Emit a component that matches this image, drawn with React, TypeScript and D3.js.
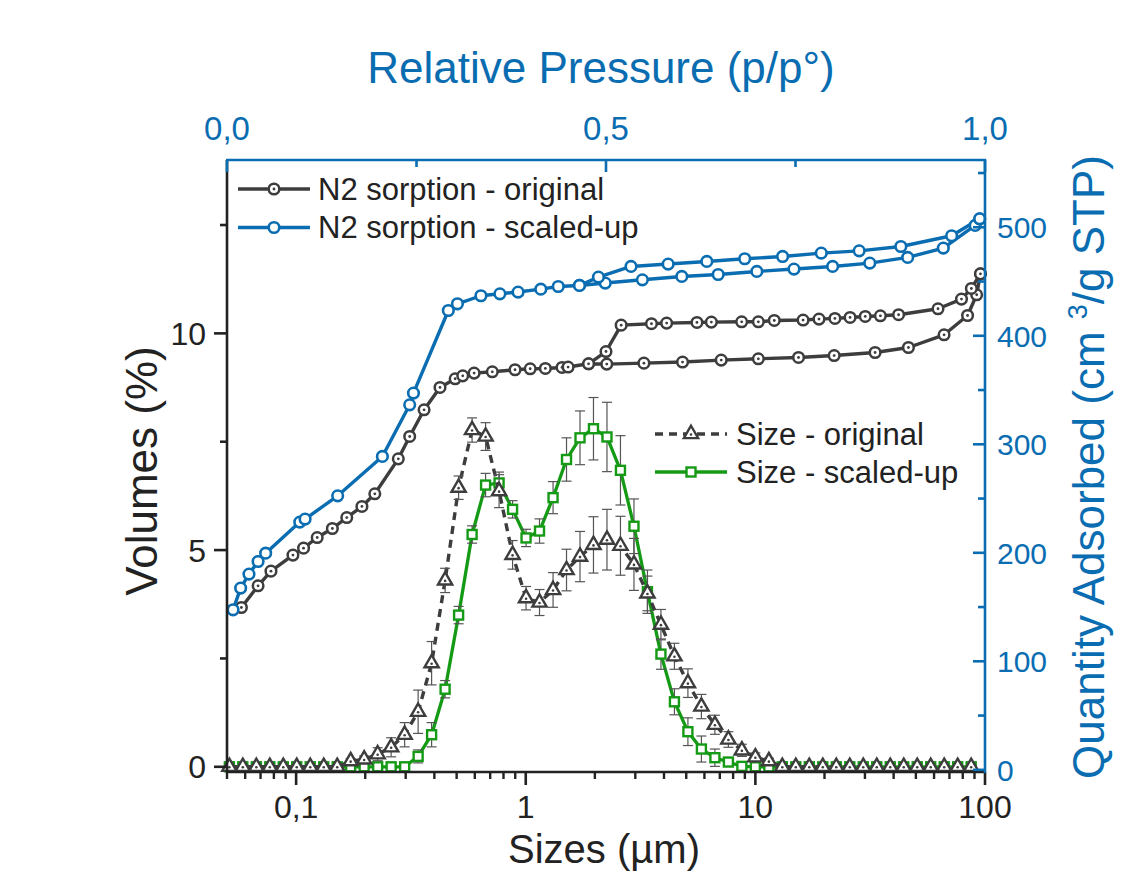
import React from "react";
import * as d3 from "d3";

// ---------- data ----------
const sizeBins = [
  0.0512, 0.0586, 0.0671, 0.0768, 0.0879, 0.1006, 0.1152, 0.1319, 0.151, 0.1728,
  0.1978, 0.2265, 0.2593, 0.2969, 0.3399, 0.3891, 0.4455, 0.51, 0.5839, 0.6685,
  0.7653, 0.8762, 1.003, 1.148, 1.315, 1.505, 1.723, 1.972, 2.258, 2.585,
  2.96, 3.388, 3.879, 4.441, 5.084, 5.821, 6.664, 7.629, 8.734, 9.998,
  11.45, 13.1, 15.0, 17.17, 19.66, 22.51, 25.77, 29.5, 33.78, 38.67,
  44.27, 50.68, 58.02, 66.43, 76.04, 87.06,
];
const volOriginal = [
  0, 0, 0, 0, 0, 0, 0, 0, 0, 0.13,
  0.17, 0.29, 0.45, 0.74, 1.27, 2.39, 4.3, 6.44, 7.77, 7.62,
  6.36, 4.89, 3.89, 3.79, 4.08, 4.54, 4.85, 5.12, 5.24, 5.1,
  4.67, 4.0, 3.28, 2.55, 1.93, 1.39, 0.97, 0.63, 0.38, 0.22,
  0.13, 0, 0, 0, 0, 0, 0, 0, 0, 0,
  0, 0, 0, 0, 0, 0,
];
const errOriginal = [
  0, 0, 0, 0, 0, 0, 0, 0, 0, 0.06,
  0.08, 0.15, 0.22, 0.28, 0.5, 0.5, 0.28, 0.27, 0.28, 0.32,
  0.38, 0.33, 0.27, 0.3, 0.4, 0.48, 0.58, 0.65, 0.7, 0.68,
  0.6, 0.4, 0.35, 0.3, 0.33, 0.28, 0.22, 0.18, 0.14, 0.1,
  0.07, 0, 0, 0, 0, 0, 0, 0, 0, 0,
  0, 0, 0, 0, 0, 0,
];
const volScaled = [
  0, 0, 0, 0, 0, 0, 0, 0, 0, 0,
  0, 0, 0, 0, 0.24, 0.74, 1.79, 3.5, 5.36, 6.5,
  6.55, 5.94, 5.28, 5.44, 6.21, 7.09, 7.59, 7.8, 7.61, 6.84,
  5.55, 4.04, 2.6, 1.5, 0.81, 0.41, 0.21, 0.11, 0.01, 0,
  0, 0, 0, 0, 0, 0, 0, 0, 0, 0,
  0, 0, 0, 0, 0, 0,
];
const errScaled = [
  0, 0, 0, 0, 0, 0, 0, 0, 0, 0,
  0, 0, 0, 0, 0.15, 0.28, 0.2, 0.2, 0.2, 0.27,
  0.25, 0.2, 0.2, 0.28, 0.37, 0.5, 0.62, 0.72, 0.8, 0.8,
  0.63, 0.5, 0.35, 0.3, 0.32, 0.3, 0.2, 0.1, 0, 0,
  0, 0, 0, 0, 0, 0, 0, 0, 0, 0,
  0, 0, 0, 0, 0, 0,
];

const pAdsOriginal = [
  0.019, 0.041, 0.058, 0.087, 0.101, 0.119, 0.139, 0.158, 0.178, 0.195,
  0.226, 0.241, 0.26, 0.281, 0.301, 0.311, 0.326, 0.35, 0.38, 0.4,
  0.42, 0.442, 0.45, 0.477, 0.501, 0.55, 0.601, 0.652, 0.701, 0.754,
  0.801, 0.855, 0.899, 0.946, 0.977, 0.989, 0.994,
];
const qAdsOriginal = [
  149.6, 169.6, 183.1, 197.9, 204.3, 214.1, 222.4, 232.5, 242.7, 254.4,
  286.6, 307.2, 331.8, 352.4, 360.4, 363.1, 365.6, 366.8, 368.7, 369.6,
  369.9, 370.8, 371.2, 374.2, 373.9, 374.8, 375.8, 377.6, 378.8, 380.0,
  381.8, 384.6, 389.2, 400.9, 418.7, 437.8, 457.1,
];
const pDesOriginal = [
  0.994, 0.982, 0.969, 0.938, 0.886, 0.862, 0.842, 0.822, 0.802, 0.781,
  0.76, 0.722, 0.701, 0.679, 0.639, 0.62, 0.58, 0.56, 0.52, 0.5, 0.477,
];
const qDesOriginal = [
  457.1, 443.6, 433.8, 424.9, 419.4, 418.4, 417.8, 416.9, 416.0, 415.4,
  414.5, 414.1, 412.9, 412.9, 412.6, 412.3, 411.7, 411.1, 409.8, 385.5, 374.2,
];
const pAdsScaled = [
  0.008, 0.018, 0.029, 0.041, 0.051, 0.096, 0.103, 0.146, 0.205, 0.241,
  0.246, 0.292, 0.304, 0.335, 0.36, 0.384, 0.414, 0.437, 0.465, 0.499,
  0.548, 0.6, 0.648, 0.699, 0.748, 0.799, 0.848, 0.898, 0.945, 0.987, 0.993,
];
const qAdsScaled = [
  147.5, 167.5, 180.4, 192.0, 199.7, 228.3, 231.1, 252.5, 288.8, 336.4,
  347.2, 423.3, 429.5, 436.9, 438.7, 440.3, 443.0, 445.4, 446.4, 448.6,
  451.6, 454.7, 456.5, 459.3, 461.5, 463.9, 467.0, 472.2, 480.8, 501.7, 507.8,
];
const pDesScaled = [0.993, 0.956, 0.889, 0.834, 0.784, 0.733, 0.683, 0.633, 0.582, 0.533, 0.49, 0.465];
const qDesScaled = [507.8, 492.2, 482.3, 478.3, 476.2, 473.1, 471.0, 468.5, 466.1, 463.9, 454.1, 446.4];

const bottomTicks = [0.1, 1, 10, 100];
const bottomTickLabels = ["0,1", "1", "10", "100"];
const leftTicks = [0, 5, 10];
const leftMinorTicks = [2.5, 7.5, 12.5];
const rightTicks = [0, 100, 200, 300, 400, 500];
const rightMinorTicks = [50, 150, 250, 350, 450, 550];
const topTicks = [0, 0.5, 1];
const topTickLabels = ["0,0", "0,5", "1,0"];
const topMinorTicks = [0.25, 0.75];

const legendSorption = ["N2 sorption - original", "N2 sorption - scaled-up"];
const legendSize = ["Size - original", "Size - scaled-up"];

// ---------- style ----------
const FONT = "'Liberation Sans', Arial, Helvetica, sans-serif";
const DARK = "#3d3d3d";
const BLUE = "#0a6db1";
const GREEN = "#149a14";
const AXIS_DARK = "#222";

const X0 = 227, X1 = 985, Y0 = 772, Y1 = 160;

export default function App() {
  const x = d3.scaleLog().domain([0.05, 100]).range([X0, X1]);
  const yL = d3.scaleLinear().domain([-0.12, 14]).range([Y0, Y1]);
  const xT = d3.scaleLinear().domain([0, 1]).range([X0, X1]);
  const yR = d3.scaleLinear().domain([-2, 562]).range([Y0, Y1]);

  const lineXY = d3.line<[number, number]>().x((d) => d[0]).y((d) => d[1]);

  const sorp = (ps: number[], qs: number[]) =>
    ps.map((p, i) => [xT(p), yR(qs[i])] as [number, number]);
  const sizePts = (vs: number[]) =>
    sizeBins.map((s, i) => [x(s), yL(vs[i])] as [number, number]);

  const adsO = sorp(pAdsOriginal, qAdsOriginal);
  const desO = sorp(pDesOriginal, qDesOriginal);
  const adsS = sorp(pAdsScaled, qAdsScaled);
  const desS = sorp(pDesScaled, qDesScaled);
  const szO = sizePts(volOriginal);
  const szS = sizePts(volScaled);

  const triPath = d3.symbol().type(d3.symbolTriangle).size(88)() as string;

  const minorLog = x.ticks(40).filter((t) => !bottomTicks.includes(t));

  const circleO = (cx: number, cy: number, key: string) => (
    <g key={key}>
      <circle cx={cx} cy={cy} r={5.3} fill="#fff" stroke={DARK} strokeWidth={2.5} />
      <circle cx={cx} cy={cy} r={1.4} fill={DARK} />
    </g>
  );
  const circleS = (cx: number, cy: number, key: string) => (
    <circle key={key} cx={cx} cy={cy} r={5.3} fill="#fff" stroke={BLUE} strokeWidth={2.6} />
  );
  const tri = (cx: number, cy: number, key: string) => (
    <g key={key} transform={`translate(${cx},${cy})`}>
      <path d={triPath} fill="#fff" stroke={DARK} strokeWidth={2.4} strokeLinejoin="miter" />
      <circle cx={0} cy={0.5} r={1.3} fill={DARK} />
    </g>
  );
  const sq = (cx: number, cy: number, key: string) => (
    <rect key={key} x={cx - 4.5} y={cy - 4.5} width={9} height={9} fill="#fff" stroke={GREEN} strokeWidth={2.4} />
  );

  const errBars = (vs: number[], es: number[], key: string) =>
    sizeBins.map((s, i) => {
      if (!es[i]) return null;
      const cx = x(s);
      const ya = yL(vs[i] + es[i]);
      const yb = yL(Math.max(vs[i] - es[i], -0.1));
      return (
        <g key={key + i} stroke="#555" strokeWidth={1.2}>
          <line x1={cx} x2={cx} y1={ya} y2={yb} />
          <line x1={cx - 5} x2={cx + 5} y1={ya} y2={ya} />
          <line x1={cx - 5} x2={cx + 5} y1={yb} y2={yb} />
        </g>
      );
    });

  return (
    <svg
      width={1132}
      height={872}
      style={{ position: "absolute", left: 0, top: 0, background: "#fff" }}
      fontFamily={FONT}
    >
      <rect x={0} y={0} width={1132} height={872} fill="#fff" />

      {/* sorption curves */}
      <path d={lineXY(adsO) as string} fill="none" stroke={DARK} strokeWidth={3.4} strokeLinejoin="round" />
      <path d={lineXY(desO) as string} fill="none" stroke={DARK} strokeWidth={3.4} strokeLinejoin="round" />
      {adsO.map((d, i) => circleO(d[0], d[1], "ao" + i))}
      {desO.map((d, i) => circleO(d[0], d[1], "do" + i))}
      <path d={lineXY(adsS) as string} fill="none" stroke={BLUE} strokeWidth={3.4} strokeLinejoin="round" />
      <path d={lineXY(desS) as string} fill="none" stroke={BLUE} strokeWidth={3.4} strokeLinejoin="round" />
      {adsS.map((d, i) => circleS(d[0], d[1], "as" + i))}
      {desS.map((d, i) => circleS(d[0], d[1], "ds" + i))}

      {/* size scaled-up */}
      <path d={lineXY(szS) as string} fill="none" stroke={GREEN} strokeWidth={3.3} strokeLinejoin="round" />
      {errBars(volScaled, errScaled, "es")}
      {szS.map((d, i) => sq(d[0], d[1], "sq" + i))}

      {/* size original */}
      <path d={lineXY(szO) as string} fill="none" stroke={DARK} strokeWidth={3.4} strokeDasharray="8,6" />
      {errBars(volOriginal, errOriginal, "eo")}
      {szO.map((d, i) => tri(d[0], d[1], "tr" + i))}

      {/* left axis */}
      <line x1={X0} x2={X0} y1={Y1} y2={Y0 + 1} stroke={AXIS_DARK} strokeWidth={2.6} />
      {leftTicks.map((t) => (
        <g key={"lt" + t}>
          <line x1={X0 - 13} x2={X0} y1={yL(t)} y2={yL(t)} stroke={AXIS_DARK} strokeWidth={2.6} />
          <text x={206} y={yL(t)} dy="0.36em" textAnchor="end" fontSize={32} fill="#222">{t}</text>
        </g>
      ))}
      {leftMinorTicks.map((t) => (
        <line key={"lm" + t} x1={X0 - 7} x2={X0} y1={yL(t)} y2={yL(t)} stroke={AXIS_DARK} strokeWidth={2.6} />
      ))}
      <text transform="translate(157,471) rotate(-90)" textAnchor="middle" fontSize={44} fill="#222">Volumes (%)</text>

      {/* bottom axis */}
      <line x1={X0 - 1} x2={X1 + 1} y1={Y0} y2={Y0} stroke={AXIS_DARK} strokeWidth={2.6} />
      {bottomTicks.map((t, i) => (
        <g key={"bt" + t}>
          <line x1={x(t)} x2={x(t)} y1={Y0} y2={Y0 + 13} stroke={AXIS_DARK} strokeWidth={2.6} />
          <text x={x(t)} y={818} textAnchor="middle" fontSize={32} fill="#222">{bottomTickLabels[i]}</text>
        </g>
      ))}
      {minorLog.map((t, i) => (
        <line key={"bm" + i} x1={x(t)} x2={x(t)} y1={Y0} y2={Y0 + 7} stroke={AXIS_DARK} strokeWidth={2.4} />
      ))}
      <text x={604} y={863} textAnchor="middle" fontSize={40} fill="#222">Sizes (µm)</text>

      {/* top axis */}
      <line x1={X0 - 1} x2={X1 + 1} y1={Y1} y2={Y1} stroke={BLUE} strokeWidth={2.6} />
      {topTicks.map((t, i) => (
        <g key={"tt" + t}>
          <line x1={xT(t)} x2={xT(t)} y1={Y1} y2={Y1 + 12} stroke={BLUE} strokeWidth={2.6} />
          <text x={xT(t)} y={140} textAnchor="middle" fontSize={33} fill={BLUE}>{topTickLabels[i]}</text>
        </g>
      ))}
      {topMinorTicks.map((t) => (
        <line key={"tm" + t} x1={xT(t)} x2={xT(t)} y1={Y1} y2={Y1 + 7} stroke={BLUE} strokeWidth={2.6} />
      ))}
      <text x={601} y={83} textAnchor="middle" fontSize={44} fill={BLUE}>Relative Pressure (p/p°)</text>

      {/* right axis */}
      <line x1={X1} x2={X1} y1={Y1 - 1} y2={Y0 + 1} stroke={BLUE} strokeWidth={2.6} />
      {rightTicks.map((t) => (
        <g key={"rt" + t}>
          <line x1={X1 - 12} x2={X1} y1={yR(t)} y2={yR(t)} stroke={BLUE} strokeWidth={2.6} />
          <text x={997} y={yR(t)} dy="0.36em" textAnchor="start" fontSize={30} fill={BLUE}>{t}</text>
        </g>
      ))}
      {rightMinorTicks.map((t) => (
        <line key={"rm" + t} x1={X1 - 7} x2={X1} y1={yR(t)} y2={yR(t)} stroke={BLUE} strokeWidth={2.6} />
      ))}
      <text transform="translate(1104,467) rotate(-90)" textAnchor="middle" fontSize={44} fill={BLUE}>
        Quantity Adsorbed (cm <tspan fontSize={27} dy={-17}>3</tspan><tspan dy={17}>/g STP)</tspan>
      </text>

      {/* legend: sorption */}
      <line x1={238} x2={310} y1={189} y2={189} stroke={DARK} strokeWidth={3.4} />
      {circleO(274, 189, "lg1")}
      <text x={318} y={199.5} fontSize={31} fill="#222">{legendSorption[0]}</text>
      <line x1={238} x2={310} y1={227.5} y2={227.5} stroke={BLUE} strokeWidth={3.4} />
      {circleS(274, 227.5, "lg2")}
      <text x={318} y={238} fontSize={31} fill="#222">{legendSorption[1]}</text>

      {/* legend: size */}
      <line x1={655} x2={727} y1={434} y2={434} stroke={DARK} strokeWidth={3.4} strokeDasharray="8,6" />
      {tri(691, 434, "lg3")}
      <text x={736} y={445} fontSize={31} fill="#222">{legendSize[0]}</text>
      <line x1={655} x2={727} y1={472} y2={472} stroke={GREEN} strokeWidth={3.3} />
      {sq(691, 472, "lg4")}
      <text x={736} y={483} fontSize={31} fill="#222">{legendSize[1]}</text>
    </svg>
  );
}
